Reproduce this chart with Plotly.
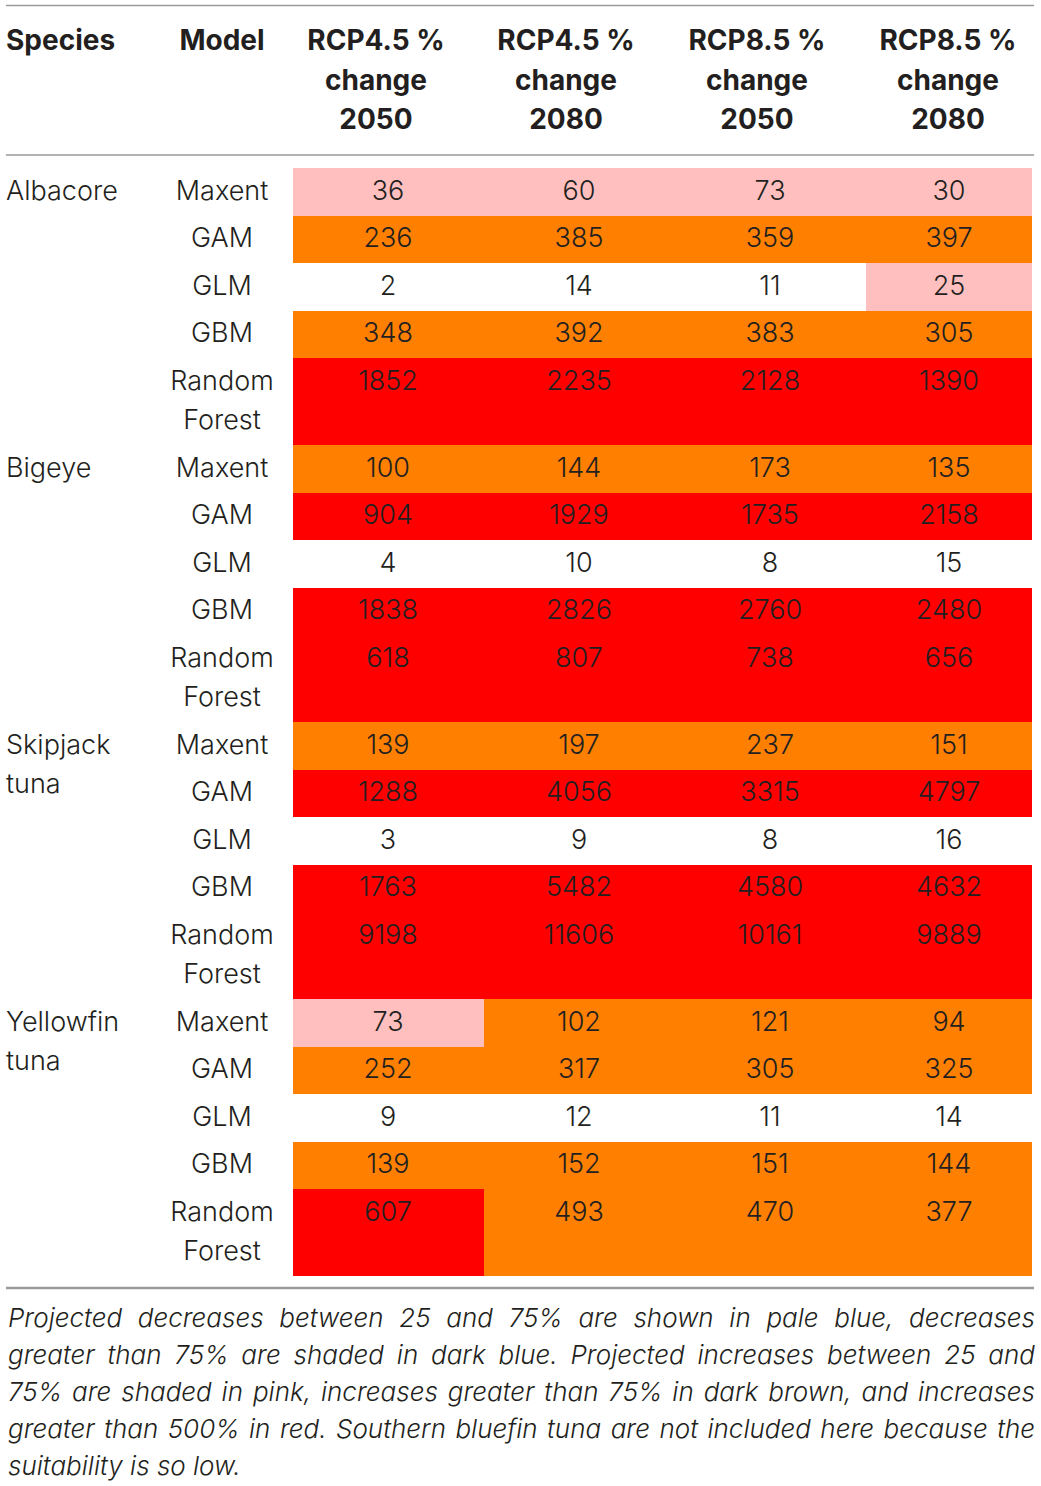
import numpy as np
import plotly.graph_objects as go

# table data
species = ["Albacore", "Bigeye", "Skipjack\ntuna", "Yellowfin\ntuna"]
models = ["Maxent", "GAM", "GLM", "GBM", "Random\nForest"]
headers = ["RCP4.5 %\nchange\n2050", "RCP4.5 %\nchange\n2080",
           "RCP8.5 %\nchange\n2050", "RCP8.5 %\nchange\n2080"]

rcp45_2050 = [36, 236, 2, 348, 1852, 100, 904, 4, 1838, 618,
              139, 1288, 3, 1763, 9198, 73, 252, 9, 139, 607]
rcp45_2080 = [60, 385, 14, 392, 2235, 144, 1929, 10, 2826, 807,
              197, 4056, 9, 5482, 11606, 102, 317, 12, 152, 493]
rcp85_2050 = [73, 359, 11, 383, 2128, 173, 1735, 8, 2760, 738,
              237, 3315, 8, 4580, 10161, 121, 305, 11, 151, 470]
rcp85_2080 = [30, 397, 25, 305, 1390, 135, 2158, 15, 2480, 656,
              151, 4797, 16, 4632, 9889, 94, 325, 14, 144, 377]

caption = ["Projected decreases between 25 and 75% are shown in pale blue, decreases",
           "greater than 75% are shaded in dark blue. Projected increases between 25 and",
           "75% are shaded in pink, increases greater than 75% in dark brown, and increases",
           "greater than 500% in red. Southern bluefin tuna are not included here because the",
           "suitability is so low."]

# layout constants (pixels, y downwards)
W, H = 1041, 1486
TXT = "#231f20"
FONT = "Inter"
LH = 39.5          # line height
PAD = 8            # extra row padding
BODY_TOP = 168
HEAD_Y = 43
col_edges = [293, 484, 675, 866, 1032]
cell_x = [388, 579, 770, 949]
head_x = [376, 566, 757, 948]
model_x = 222
species_x = 6

cols = [rcp45_2050, rcp45_2080, rcp85_2050, rcp85_2080]
values = np.array(cols).T            # rows x cols
codes = np.digitize(values, [25, 75, 500])

# row geometry from the number of text lines in each model name
row_models = models * len(species)
nlines = [m.count("\n") + 1 for m in row_models]
heights = [PAD + LH * n for n in nlines]
y_edges = BODY_TOP + np.concatenate([[0], np.cumsum(heights)])
row_top = y_edges[:-1]
first_line = row_top + PAD / 2 + LH / 2 + 1

fig = go.Figure()

fig.add_trace(go.Heatmap(
    z=codes, x=col_edges, y=y_edges, zmin=0, zmax=3,
    colorscale=[[0, "#ffffff"], [1/6, "#ffffff"], [1/6, "#ffbfbf"], [0.5, "#ffbfbf"],
                [0.5, "#ff8000"], [5/6, "#ff8000"], [5/6, "#ff0000"], [1, "#ff0000"]],
    showscale=False, hoverinfo="skip"))

# cell values
vx, vy, vt = [], [], []
for j, col in enumerate(cols):
    for i, v in enumerate(col):
        vx.append(cell_x[j]); vy.append(first_line[i]); vt.append(str(v))

# model names
mx, my, mt = [], [], []
for i, m in enumerate(row_models):
    for k, part in enumerate(m.split("\n")):
        mx.append(model_x); my.append(first_line[i] + k * LH); mt.append(part)

body_font = dict(family=FONT, size=27, color=TXT, weight=300)
fig.add_trace(go.Scatter(x=vx, y=vy, text=vt, mode="text", textposition="middle center",
                         textfont=body_font, hoverinfo="skip"))
fig.add_trace(go.Scatter(x=mx, y=my, text=mt, mode="text", textposition="middle center",
                         textfont=body_font, hoverinfo="skip"))

# species names, left aligned at the top of each group
sx, sy, st = [], [], []
for g, s in enumerate(species):
    top = first_line[g * len(models)]
    for k, part in enumerate(s.split("\n")):
        sx.append(species_x); sy.append(top + k * LH); st.append(part)
fig.add_trace(go.Scatter(x=sx, y=sy, text=st, mode="text", textposition="middle right",
                         textfont=body_font, hoverinfo="skip"))

# header
head_font = dict(family=FONT, size=28, color=TXT, weight=700)
hx, hy, ht = [], [], []
for j, h in enumerate(headers):
    for k, part in enumerate(h.split("\n")):
        hx.append(head_x[j]); hy.append(HEAD_Y + k * LH); ht.append(part)
hx += [model_x]; hy += [HEAD_Y]; ht += ["Model"]
fig.add_trace(go.Scatter(x=hx, y=hy, text=ht, mode="text", textposition="middle center",
                         textfont=head_font, hoverinfo="skip"))
fig.add_trace(go.Scatter(x=[species_x], y=[HEAD_Y], text=["Species"], mode="text",
                         textposition="middle right", textfont=head_font, hoverinfo="skip"))

# caption
cap_y0 = 1317
for k, line in enumerate(caption):
    fig.add_annotation(x=6, y=cap_y0 + k * 37, xref="x", yref="y", text=line,
                       showarrow=False, xanchor="left", yanchor="middle", align="left",
                       font=dict(family=FONT, size=26, color=TXT, weight=300, style="italic"))

# rules
for yy, lw in [(5.5, 1.5), (155, 1.5), (1288, 2.5)]:
    fig.add_shape(type="line", x0=6, x1=1034, y0=yy, y1=yy, xref="x", yref="y",
                  line=dict(color="#9a9a9a", width=lw))

fig.update_xaxes(range=[0, W], visible=False)
fig.update_yaxes(range=[H, 0], visible=False)
fig.update_layout(width=W, height=H, margin=dict(l=0, r=0, t=0, b=0),
                  plot_bgcolor="white", paper_bgcolor="white", showlegend=False)

# justify all caption lines but the last one to the table width
justify = """
document.body.style.margin = '0px';
var gd = document.getElementById('{plot_id}');
var texts = gd.querySelectorAll('.annotation-text');
texts.forEach(function (t, i) {
  if (i >= texts.length - 1) return;
  var gaps = (t.textContent.match(/ /g) || []).length;
  var w = t.getComputedTextLength();
  if (gaps > 0 && w < 1027) t.style.wordSpacing = ((1027 - w) / gaps) + 'px';
});
"""
fig.write_html("out.html", config={"displayModeBar": False}, post_script=justify)
